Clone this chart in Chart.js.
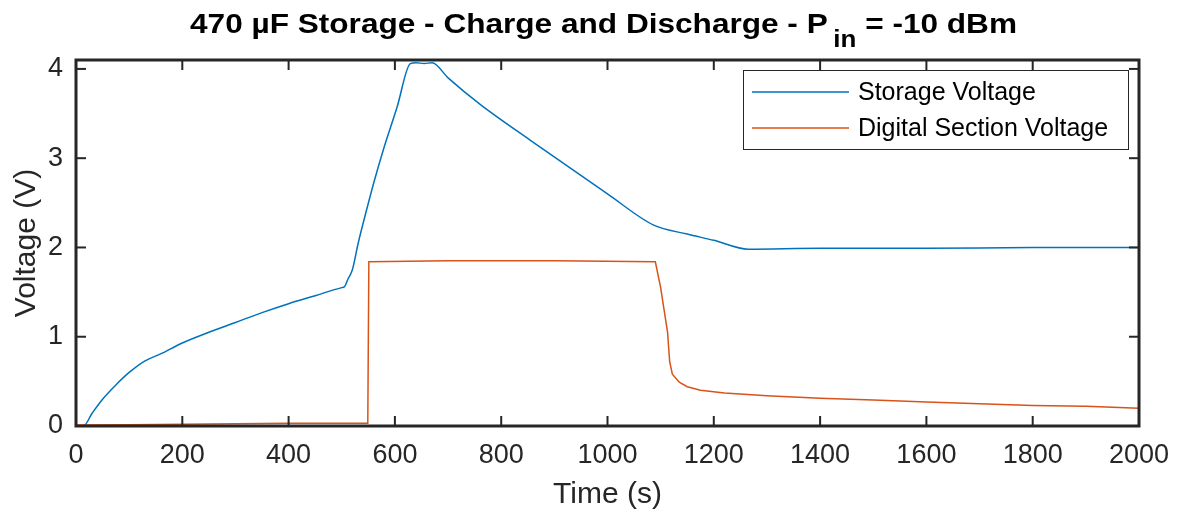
<!DOCTYPE html>
<html>
<head>
<meta charset="utf-8">
<script src="https://cdn.jsdelivr.net/npm/chart.js@4"></script>
<style>
html,body{margin:0;padding:0;background:#fff;}
#wrap{width:1178px;height:516px;position:relative;}
</style>
</head>
<body>
<div id="wrap"><canvas id="c"></canvas></div>
<script>
// ---- data ----
const storageTime = [0, 14, 30, 50, 75, 100, 130, 160, 200, 250, 300, 350, 400, 450, 500, 505, 512, 520, 531, 548, 560, 578, 604, 629, 640, 655, 670, 700, 761, 855, 1000, 1087, 1150, 1200, 1265, 1400, 1600, 1800, 2000];
const storageVoltage = [0, 0, 0.14, 0.30, 0.46, 0.60, 0.73, 0.81, 0.93, 1.05, 1.16, 1.27, 1.37, 1.46, 1.55, 1.56, 1.65, 1.75, 2.05, 2.45, 2.72, 3.09, 3.57, 4.06, 4.07, 4.06, 4.07, 3.90, 3.60, 3.20, 2.60, 2.25, 2.15, 2.08, 1.98, 1.99, 1.99, 2.00, 2.00];
const digitalTime = [0, 100, 200, 300, 400, 549, 551, 700, 900, 1090, 1100, 1113, 1117, 1122, 1135, 1150, 1175, 1220, 1300, 1400, 1500, 1600, 1700, 1800, 1900, 2000];
const digitalVoltage = [0.01, 0.015, 0.02, 0.025, 0.03, 0.03, 1.84, 1.85, 1.85, 1.84, 1.55, 1.05, 0.72, 0.58, 0.49, 0.44, 0.40, 0.37, 0.34, 0.31, 0.29, 0.27, 0.25, 0.23, 0.22, 0.20];
const seriesNames = ['Storage Voltage', 'Digital Section Voltage'];
const seriesColors = ['#0072BD', '#D95319'];
const xTickStep = 200;
const yTickStep = 1;
const titleMain = '470 µF Storage - Charge and Discharge - P';
const titleSub = 'in';
const titleTail = ' = -10 dBm';
const xLabel = 'Time (s)';
const yLabel = 'Voltage (V)';

const toXY = (xs, ys) => xs.map((x, i) => ({x: x, y: ys[i]}));

const AX = '#262626';
const FONT = 'Liberation Sans, Arial, Helvetica, sans-serif';

const framePlugin = {
  id: 'frame',
  afterDatasetsDraw(chart) {
    const {ctx, chartArea: a, scales} = chart;
    ctx.save();
    ctx.strokeStyle = AX;
    ctx.lineWidth = 2;
    const tl = 10;
    scales.x.ticks.forEach(t => {
      const px = scales.x.getPixelForValue(t.value);
      ctx.beginPath(); ctx.moveTo(px, a.bottom); ctx.lineTo(px, a.bottom - tl); ctx.stroke();
      ctx.beginPath(); ctx.moveTo(px, a.top); ctx.lineTo(px, a.top + tl); ctx.stroke();
    });
    scales.y.ticks.forEach(t => {
      const py = scales.y.getPixelForValue(t.value);
      ctx.beginPath(); ctx.moveTo(a.left, py); ctx.lineTo(a.left + tl, py); ctx.stroke();
      ctx.beginPath(); ctx.moveTo(a.right, py); ctx.lineTo(a.right - tl, py); ctx.stroke();
    });
    ctx.lineWidth = 3;
    ctx.strokeRect(a.left, a.top, a.right - a.left, a.bottom - a.top);

    // legend box
    const lx = a.right - 396, ly = a.top + 10, lw = 385, lh = 79;
    ctx.fillStyle = '#fff';
    ctx.fillRect(lx, ly, lw, lh);
    ctx.lineWidth = 1;
    ctx.strokeStyle = AX;
    ctx.strokeRect(lx + 0.5, ly + 0.5, lw, lh);
    ctx.font = '25px ' + FONT;
    ctx.textBaseline = 'middle';
    ctx.textAlign = 'left';
    chart.data.datasets.forEach((ds, i) => {
      const yy = ly + 22 + i * 36;
      ctx.strokeStyle = ds.borderColor;
      ctx.lineWidth = 1.5;
      ctx.beginPath(); ctx.moveTo(lx + 9, yy); ctx.lineTo(lx + 106, yy); ctx.stroke();
      ctx.fillStyle = '#000';
      ctx.fillText(ds.label, lx + 115, yy + 1);
    });

    // title with subscript
    const fMain = 'bold 28px ' + FONT;
    const fSub = 'bold 23px ' + FONT;
    ctx.font = fMain; const w1 = ctx.measureText(titleMain).width;
    const w3 = ctx.measureText(titleTail).width;
    ctx.font = fSub; const w2 = ctx.measureText(titleSub).width;
    const gap = 5;
    const total = w1 + gap + w2 + w3;
    const target = 827;
    const sx = target / total;
    ctx.translate(190, 0);
    ctx.scale(sx, 1);
    ctx.fillStyle = '#000';
    ctx.textBaseline = 'alphabetic';
    ctx.font = fMain; ctx.fillText(titleMain, 0, 33);
    ctx.font = fSub; ctx.fillText(titleSub, w1 + gap, 47);
    ctx.font = fMain; ctx.fillText(titleTail, w1 + gap + w2, 33);
    ctx.restore();
  }
};

new Chart(document.getElementById('c'), {
  type: 'line',
  data: {
    datasets: [
      {label: seriesNames[0], data: toXY(storageTime, storageVoltage), borderColor: seriesColors[0], backgroundColor: seriesColors[0], borderWidth: 1.5, pointRadius: 0, cubicInterpolationMode: 'monotone', fill: false},
      {label: seriesNames[1], data: toXY(digitalTime, digitalVoltage), borderColor: seriesColors[1], backgroundColor: seriesColors[1], borderWidth: 1.5, pointRadius: 0, tension: 0, fill: false}
    ]
  },
  options: {
    responsive: true,
    maintainAspectRatio: false,
    animation: false,
    layout: {padding: {left: 0, right: 39, top: 60, bottom: 0}},
    plugins: {legend: {display: false}, title: {display: false}, tooltip: {enabled: false}},
    scales: {
      x: {
        type: 'linear', min: 0, max: 2000,
        grid: {display: false, drawTicks: false},
        border: {display: false},
        ticks: {stepSize: xTickStep, font: {size: 27, family: FONT}, color: AX, padding: 13, maxRotation: 0, autoSkip: false, includeBounds: false, callback: v => String(v)},
        title: {display: true, text: xLabel, font: {size: 30, family: FONT}, color: AX, padding: {top: 0, bottom: 3}},
        afterFit: s => { s.height = 90; s.paddingRight = 0; s.paddingLeft = 0; }
      },
      y: {
        type: 'linear', min: 0, max: 4.1,
        grid: {display: false, drawTicks: false},
        border: {display: false},
        ticks: {stepSize: yTickStep, font: {size: 27, family: FONT}, color: AX, padding: 13, includeBounds: false, callback: v => String(v)},
        title: {display: true, text: yLabel, font: {size: 30, family: FONT}, color: AX, padding: {top: 9, bottom: 0}},
        afterFit: s => { s.width = 76; s.paddingTop = 0; s.paddingBottom = 0; }
      }
    }
  },
  plugins: [framePlugin]
});
</script>
</body>
</html>
